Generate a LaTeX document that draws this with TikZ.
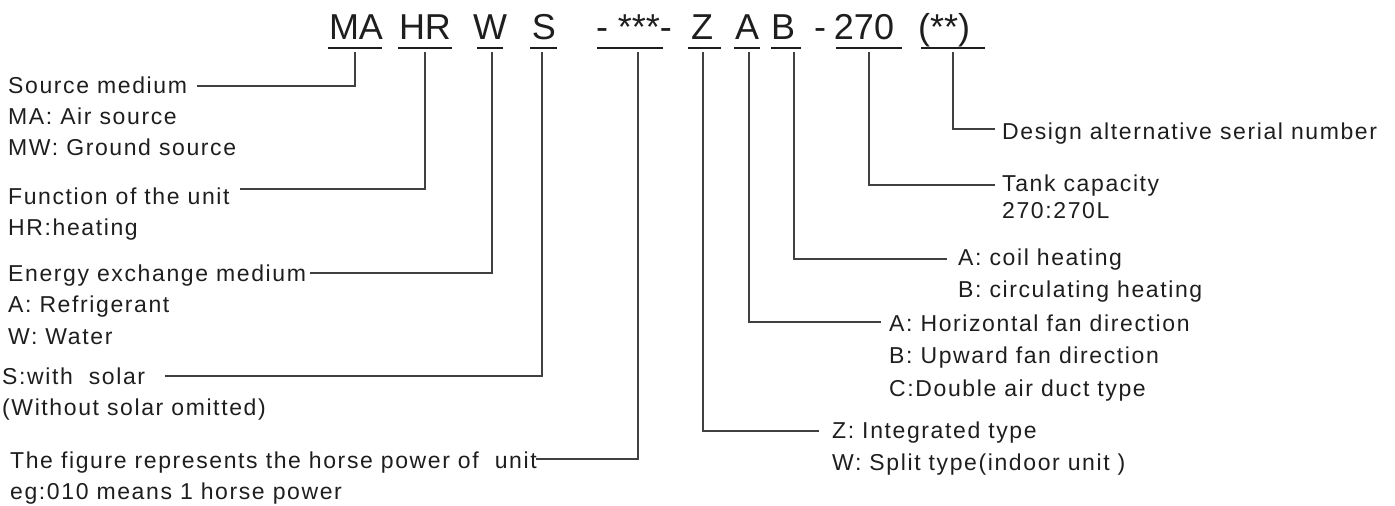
\documentclass[tikz,border=0pt]{standalone}
\usepackage{fontspec}
\setmainfont{Liberation Sans}
\newfontfamily\labfont[LetterSpace=7]{Liberation Sans}
\definecolor{ink}{HTML}{1E1E1E}
\definecolor{wire}{HTML}{404040}
\begin{document}
\begin{tikzpicture}[x=1pt,y=-1pt,
  code/.style={inner sep=0pt,anchor=base,text=ink,font=\fontsize{36}{40}\selectfont},
  lab/.style={inner sep=0pt,anchor=base west,text=ink,font=\labfont\fontsize{23}{27}\selectfont},
  uline/.style={draw=ink,line width=2pt},
  conn/.style={draw=wire,line width=1.2pt}]
\useasboundingbox (0,0) rectangle (1395,506);
% code segments
\node[code] (tMA) at (356,39) {MA};
\node[code] (tHR) at (425,39) {HR};
\node[code] (tW) at (490,39) {W};
\node[code] (tS) at (544,39) {S};
\node[code] (tN) at (634,39) {-\ ***-};
\node[code] (tZ) at (702,39) {Z};
\node[code] (tA) at (747,39) {A};
\node[code] (tB) at (783,39) {B};
\node[code] (tD) at (820,39) {-};
\node[code] (tC) at (864,39) {270};
\node[code] (tP) at (944,39) {(**)};
% underlines
\draw[uline] (328,48) -- (382,48);
\draw[uline] (398,48) -- (452,48);
\draw[uline] (477,48) -- (503,48);
\draw[uline] (530,48) -- (557,48);
\draw[uline] (597,48) -- (663,48);
\draw[uline] (688,48) -- (721,48);
\draw[uline] (734,48) -- (760,48);
\draw[uline] (771,48) -- (801,48);
\draw[uline] (836,48) -- (902,48);
\draw[uline] (921,48) -- (985,48);
% connector starts
\coordinate (cMA) at (355,52);
\coordinate (cHR) at (425,52);
\coordinate (cW) at (492,52);
\coordinate (cS) at (542,52);
\coordinate (cN) at (638,52);
\coordinate (cZ) at (703,52);
\coordinate (cA) at (749,52);
\coordinate (cB) at (794,52);
\coordinate (cC) at (869,52);
\coordinate (cP) at (953,52);
% left labels
\node[lab] (l1) at (8,93) {Source medium};
\node[lab] (l1a) at (8,124) {MA: Air source};
\node[lab] (l1b) at (8,155) {MW: Ground source};
\node[lab] (l2) at (8,204) {Function of the unit};
\node[lab] (l2a) at (8,235) {HR:heating};
\node[lab] (l3) at (8,281) {Energy exchange medium};
\node[lab] (l3a) at (8,312) {A: Refrigerant};
\node[lab] (l3b) at (8,344) {W: Water};
\node[lab] (l4) at (2,384) {S:with\ \ solar};
\node[lab] (l4a) at (2,415) {(Without solar omitted)};
\node[lab] (l5) at (10,468) {The figure represents the horse power of\ \ unit};
\node[lab] (l5a) at (10,499) {eg:010 means 1 horse power};
% right labels
\node[lab] (r1) at (1002,139) {Design alternative serial number};
\node[lab] (r2) at (1002,191) {Tank capacity};
\node[lab] (r2a) at (1002,218) {270:270L};
\node[lab] (r3) at (958,265) {A: coil heating};
\node[lab] (r3a) at (958,297) {B: circulating heating};
\node[lab] (r4) at (889,331) {A: Horizontal fan direction};
\node[lab] (r4a) at (889,363) {B: Upward fan direction};
\node[lab] (r4b) at (889,396) {C:Double air duct type};
\node[lab] (r5) at (832,438) {Z: Integrated type};
\node[lab] (r5a) at (832,470) {W: Split type(indoor unit )};
% connector ends
\coordinate (eMA) at (197,86);
\coordinate (eHR) at (240,189);
\coordinate (eW) at (310,273);
\coordinate (eS) at (165,376);
\coordinate (eN) at (536,459);
\coordinate (eZ) at (819,431);
\coordinate (eA) at (881,322);
\coordinate (eB) at (947,259);
\coordinate (eC) at (995,185);
\coordinate (eP) at (995,129);
% connectors
\draw[conn] (cMA) |- (eMA);
\draw[conn] (cHR) |- (eHR);
\draw[conn] (cW) |- (eW);
\draw[conn] (cS) |- (eS);
\draw[conn] (cN) |- (eN);
\draw[conn] (cZ) |- (eZ);
\draw[conn] (cA) |- (eA);
\draw[conn] (cB) |- (eB);
\draw[conn] (cC) |- (eC);
\draw[conn] (cP) |- (eP);
\end{tikzpicture}
\end{document}
